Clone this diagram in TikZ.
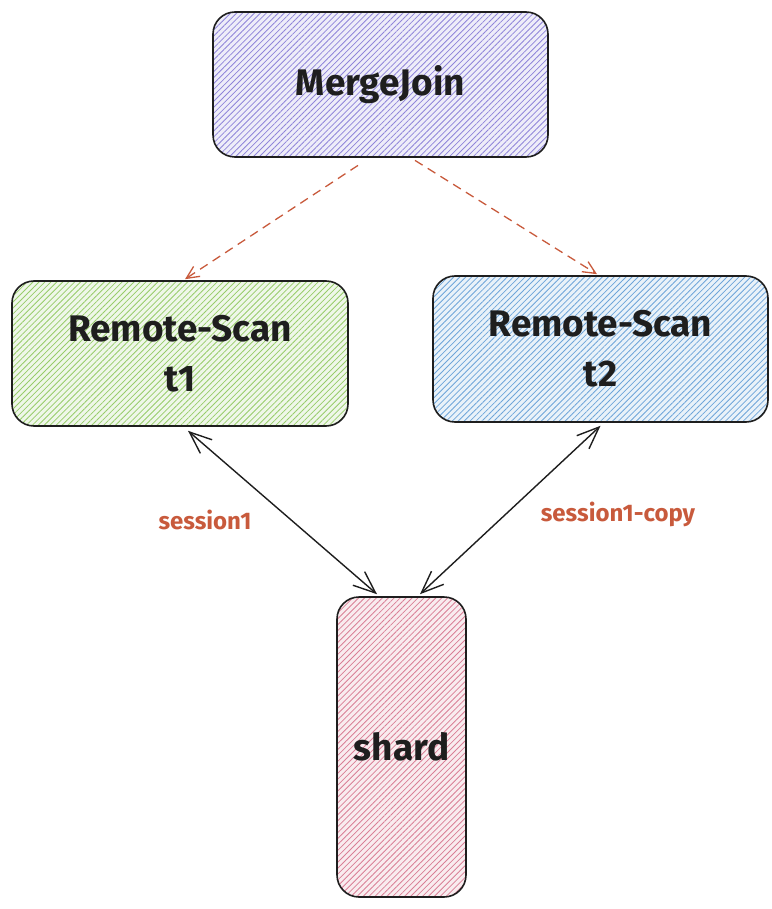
\documentclass[tikz,border=0pt]{standalone}
\usepackage{fontspec}
\setmainfont{Fira Sans}
\usetikzlibrary{patterns.meta,arrows.meta,calc}

\definecolor{inkdark}{HTML}{1E1E1E}
\definecolor{linkred}{HTML}{C85A3C}
\definecolor{hatchpurple}{HTML}{7367D0}
\definecolor{hatchgreen}{HTML}{7DBF45}
\definecolor{hatchblue}{HTML}{4A8FD0}
\definecolor{hatchpink}{HTML}{CF5F7C}

\tikzset{
  sketchbox/.style={
    draw=inkdark, line width=1.6pt, rounded corners=22pt,
    inner sep=0pt, align=center, font=\fontsize{37}{50}\selectfont\bfseries,
    text=inkdark
  },
  hatched/.style={
    preaction={fill=#1!12},
    pattern={Lines[angle=45,distance=4.2pt,line width=0.8pt]},
    pattern color=#1!80
  },
  flowlink/.style={
    draw=linkred, line width=1.3pt, dash pattern=on 9pt off 6pt,
    -{Straight Barb[angle=50:14pt,line width=1.3pt]}
  },
  sessionlink/.style={
    draw=inkdark, line width=1.4pt,
    {Straight Barb[angle=44:24pt,line width=1.4pt]}-{Straight Barb[angle=44:24pt,line width=1.4pt]}
  },
  linklabel/.style={text=linkred, font=\fontsize{24}{28}\selectfont\bfseries}
}

\begin{document}
\begin{tikzpicture}[x=1pt,y=-1pt]
  \useasboundingbox (0,0) rectangle (771,909);

  % operator boxes
  \node[sketchbox, hatched=hatchpurple, minimum width=335pt, minimum height=145pt]
    (merge) at (380.5,84.5) {MergeJoin};
  \node[sketchbox, hatched=hatchgreen, minimum width=336pt, minimum height=145pt]
    (scanone) at (180,353.5) {Remote-Scan\\t1};
  \node[sketchbox, hatched=hatchblue, minimum width=335pt, minimum height=146pt]
    (scantwo) at (600.5,349) {Remote-Scan\\t2};
  \node[sketchbox, hatched=hatchpink, minimum width=129pt, minimum height=300pt]
    (shard) at (401.5,747) {shard};

  % plan edges
  \draw[flowlink] ($(merge.south)+(-22.5,8)$) -- ($(scanone.north)+(5,-1)$);
  \draw[flowlink] ($(merge.south)+(34.5,3)$) -- ($(scantwo.north)+(-3.5,-1)$);

  % sessions to the shard
  \draw[sessionlink] ($(scanone.south)+(8,4)$) -- ($(shard.north)+(-24.5,-2)$);
  \draw[sessionlink] ($(scantwo.south)+(0,3)$) -- ($(shard.north)+(18.5,-2)$);

  \node[linklabel] (labone) at (205,520) {session1};
  \node[linklabel] (labtwo) at (618,514) {session1-copy};
\end{tikzpicture}
\end{document}
